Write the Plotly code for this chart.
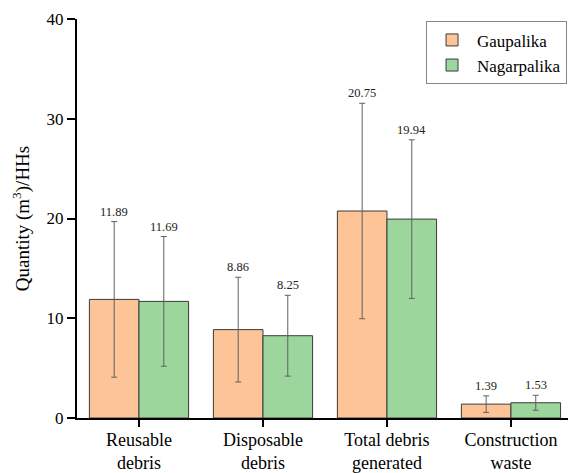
import plotly.graph_objects as go

categories = ["Reusable<br>debris", "Disposable<br>debris", "Total debris<br>generated", "Construction<br>waste"]
gaupalika = [11.89, 8.86, 20.75, 1.39]
nagarpalika = [11.69, 8.25, 19.94, 1.53]
gaupalika_err = [7.8, 5.25, 10.8, 0.83]
nagarpalika_err = [6.5, 4.05, 7.95, 0.75]
y_ticks = [0, 10, 20, 30, 40]

FONT = "Liberation Serif"
ORANGE = "#FCC497"
GREEN = "#9DD69C"

fig = go.Figure()
for name, vals, errs, col in [("Gaupalika", gaupalika, gaupalika_err, ORANGE),
                              ("Nagarpalika", nagarpalika, nagarpalika_err, GREEN)]:
    fig.add_trace(go.Bar(
        x=categories, y=vals, name=name,
        marker=dict(color=col, line=dict(color="#3a3a3a", width=1)),
        error_y=dict(type="data", array=errs, visible=True, color="#606060", thickness=1, width=3),
    ))

offset = 0.2
for i in range(len(categories)):
    for vals, errs, sgn in [(gaupalika, gaupalika_err, -1), (nagarpalika, nagarpalika_err, 1)]:
        fig.add_annotation(
            x=i + sgn * offset, y=vals[i] + errs[i], xref="x", yref="y",
            text=f"{vals[i]:.2f}", showarrow=False, yanchor="bottom", yshift=1,
            font=dict(family=FONT, size=12.5, color="#222"),
        )

fig.update_layout(
    width=568, height=473,
    margin=dict(l=77, r=0, t=19, b=55, autoexpand=False),
    paper_bgcolor="white", plot_bgcolor="white",
    barmode="group", bargap=0.2, bargroupgap=0,
    font=dict(family=FONT, color="black"),
    showlegend=True,
    legend=dict(x=0.998, xanchor="right", y=0.994, yanchor="top",
                bordercolor="#888", borderwidth=1, bgcolor="white",
                font=dict(family=FONT, size=17), tracegroupgap=0, itemwidth=40),
)
fig.update_xaxes(
    range=[-0.5, 3.46], showline=True, linecolor="black", linewidth=2,
    ticks="outside", ticklen=7, tickwidth=1.5, tickcolor="black",
    tickfont=dict(family=FONT, size=18, color="black"), showgrid=False, zeroline=False,
    automargin=False, ticklabelstandoff=-3,
)
fig.update_yaxes(
    range=[0, 40], tickvals=y_ticks, showline=True, linecolor="black", linewidth=2,
    ticks="outside", ticklen=8, tickwidth=1.5, tickcolor="black",
    tickfont=dict(family=FONT, size=17, color="black"), showgrid=False, zeroline=False,
    title=dict(text="Quantity (m<sup>3</sup>)/HHs", font=dict(family=FONT, size=19), standoff=12),
    automargin=False,
)

fig.write_html("out.html", config={"displayModeBar": False},
               post_script="document.body.style.margin='0';")
